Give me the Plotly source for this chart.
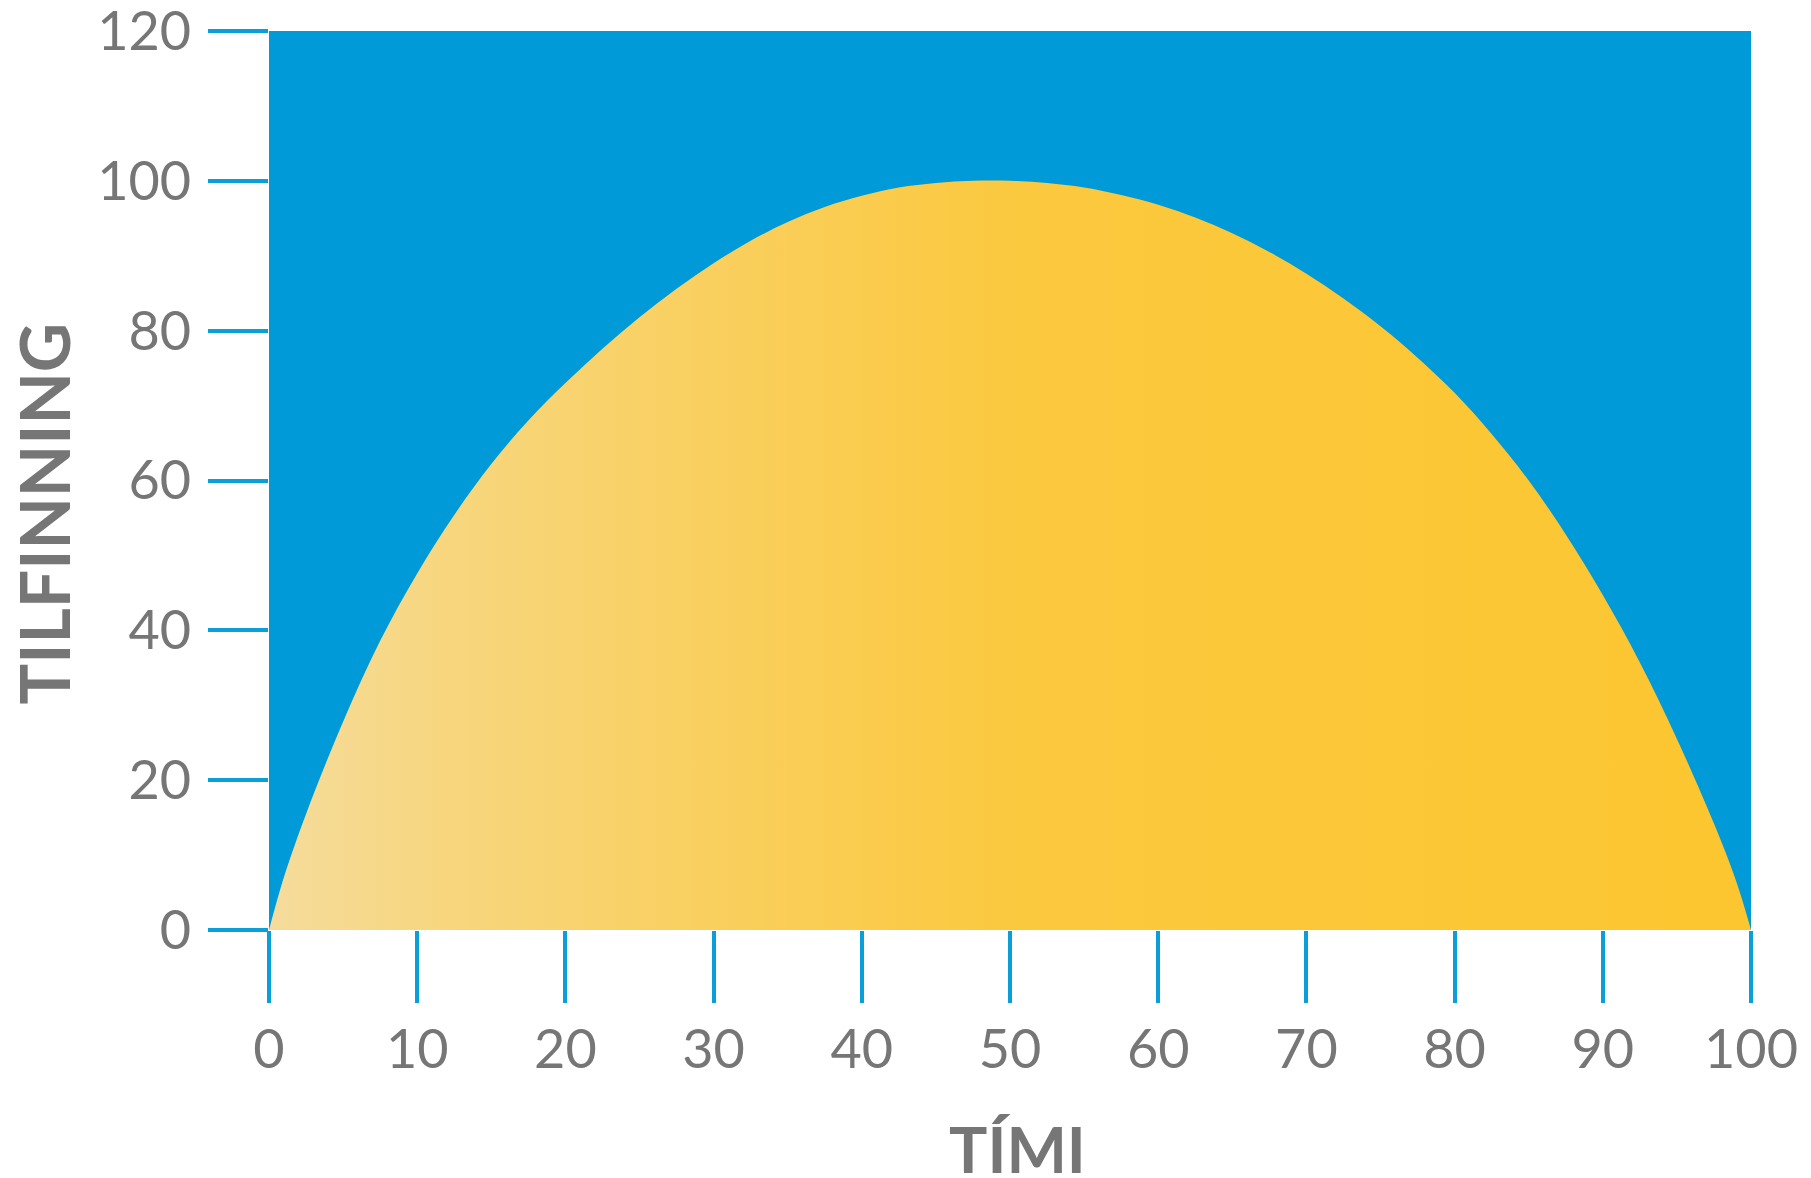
import plotly.graph_objects as go

# Data
time_values = [0, 1, 2.5, 5, 7.5, 10, 12.5, 15, 17.5, 20, 22.5, 25, 27.5, 30, 32.5,
               35, 37.5, 40, 42.5, 45, 47.5, 50, 52.5, 55, 57.5, 60, 62.5, 65, 67.5,
               70, 72.5, 75, 77.5, 80, 82.5, 85, 87.5, 90, 92.5, 95, 97.5, 99, 100]
feeling_values = [0, 7, 15.5, 27.8, 38.6, 47.6, 55.4, 62.2, 68.0, 73.0, 77.6, 81.8, 85.6, 89.0, 92.0,
                  94.5, 96.5, 98.0, 99.1, 99.7, 100, 100, 99.7, 99.1, 98.1, 96.8, 95.1, 93.0, 90.5,
                  87.6, 84.3, 80.6, 76.4, 71.7, 66.2, 60.0, 52.8, 44.7, 35.7, 25.5, 14.2, 6.5, 0]
x_ticks = [0, 10, 20, 30, 40, 50, 60, 70, 80, 90, 100]
y_ticks = [0, 20, 40, 60, 80, 100, 120]
x_title = "TÍMI"
y_title = "TILFINNING"

BLUE = "#009ad8"
TICK_BLUE = "#0a9fd8"
GREY = "#767676"
FONT = "Lato, 'Open Sans', sans-serif"

fig = go.Figure()
fig.add_trace(go.Scatter(
    x=time_values, y=feeling_values,
    mode="lines", line=dict(width=0, shape="spline", smoothing=1.0),
    fill="tozeroy",
    fillgradient=dict(
        type="horizontal",
        colorscale=[[0, "#f5dc9c"], [0.12, "#f7d67e"], [0.3, "#f9cf5e"],
                    [0.5, "#fbc93f"], [1, "#fcc630"]],
    ),
    hoverinfo="skip", showlegend=False,
))

axis_common = dict(
    showgrid=False, zeroline=False, showline=False,
    ticks="outside", tickwidth=4, tickcolor=TICK_BLUE,
    tickfont=dict(family=FONT, size=54, color=GREY),
    ticklabeloverflow="allow", automargin=False,
)

fig.update_xaxes(range=[0, 100], tickvals=x_ticks, ticklen=72,
                 ticklabelstandoff=0, **axis_common)
fig.update_yaxes(range=[0, 120], tickvals=y_ticks, ticklen=60,
                 ticklabelstandoff=6, **axis_common)

fig.add_annotation(text=y_title, xref="paper", yref="paper", x=-0.152, y=0.463,
                   showarrow=False, textangle=-90,
                   font=dict(family=FONT, size=68, color=GREY, weight="bold"),
                   xanchor="center", yanchor="middle")
fig.add_annotation(text=x_title, xref="paper", yref="paper", x=0.505, y=-0.2436,
                   showarrow=False,
                   font=dict(family=FONT, size=64, color=GREY, weight="bold"),
                   xanchor="center", yanchor="middle")

fig.update_layout(
    width=1803, height=1170,
    margin=dict(l=261, r=60, t=23, b=248, autoexpand=False),
    plot_bgcolor=BLUE, paper_bgcolor="white",
)

fig.write_html("out.html")
